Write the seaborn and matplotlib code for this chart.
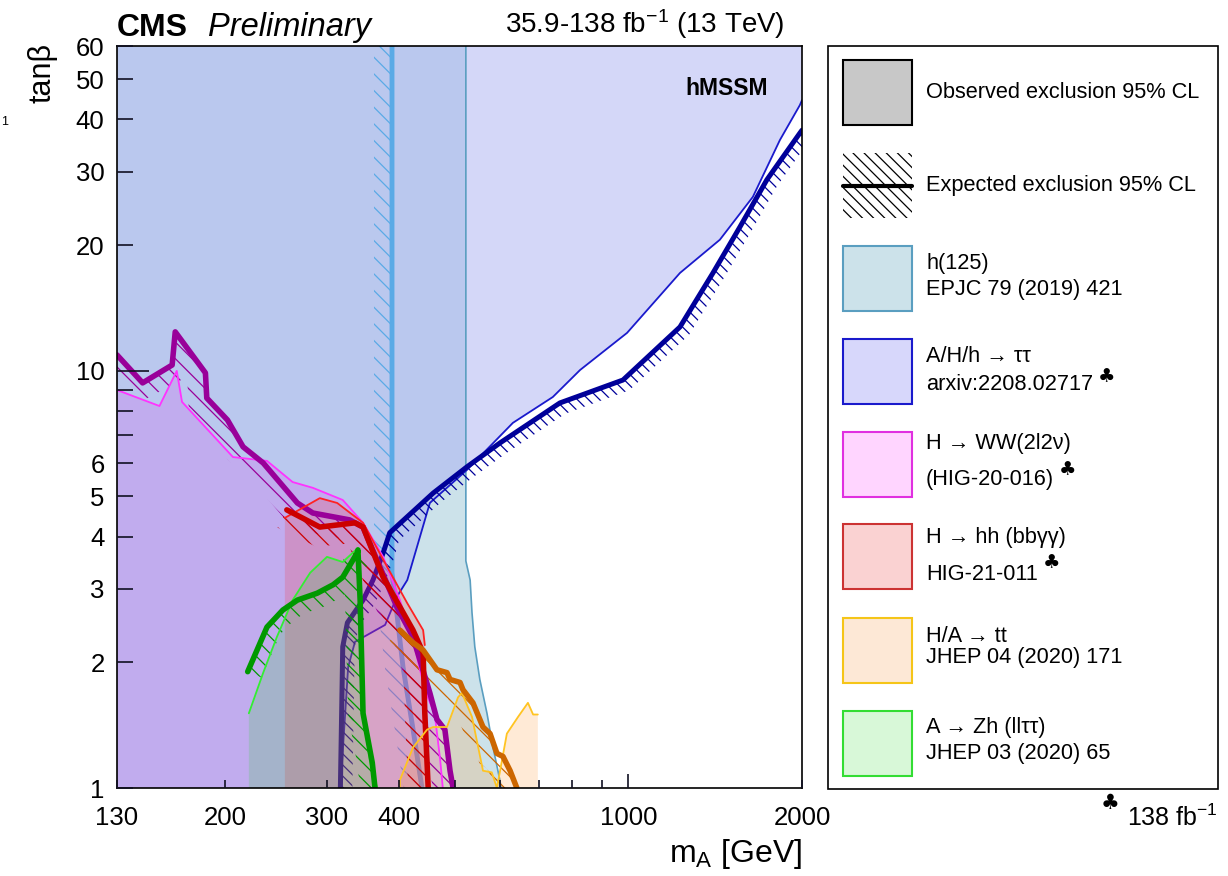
import numpy as np
import matplotlib
matplotlib.use("Agg")
import matplotlib.pyplot as plt
import seaborn as sns
from matplotlib.ticker import FixedLocator, FuncFormatter
from matplotlib.patches import Rectangle

# ---------------- data (mA [GeV], tan beta) ----------------
h125_obs_mA = [523, 523, 532, 536, 542, 553, 569, 583, 599, 602]
h125_obs_tb = [60, 3.5, 3.15, 2.63, 2.18, 1.82, 1.51, 1.25, 1.045, 1.0]
h125_exp_mA = [389.5, 389.5, 397, 407, 423, 439]
h125_exp_tb = [60, 3.28, 2.63, 1.95, 1.40, 1.0]

tautau_obs_mA = [317, 327, 336, 379, 397, 414, 453, 459, 525, 631, 740, 825, 995, 1229, 1441, 1644, 1831, 1983, 2000]
tautau_obs_tb = [1.0, 1.95, 2.24, 2.46, 2.87, 3.15, 4.82, 4.90, 5.78, 7.50, 8.65, 10.04, 12.32, 17.15, 20.6, 26.1, 35.7, 43.3, 44.5]
tautau_exp_mA = [317, 320, 326, 347, 361, 376, 386, 459, 525, 599, 761, 979, 1229, 1402, 1561, 1739, 1983, 2000]
tautau_exp_tb = [1.0, 2.18, 2.49, 2.82, 3.15, 3.66, 4.09, 5.09, 5.88, 6.71, 8.37, 9.50, 12.73, 17.15, 22.1, 28.7, 37.1, 37.7]

ww_obs_mA = [130, 154, 165, 168.5, 206.5, 236.5, 262, 284, 320, 347, 376, 402, 423.5, 444, 462, 472, 477]
ww_obs_tb = [8.99, 8.23, 9.99, 8.42, 6.21, 6.08, 5.41, 5.24, 4.90, 4.32, 3.58, 2.82, 2.26, 1.72, 1.50, 1.17, 1.0]
ww_exp_mA = [130, 144, 162, 164, 185, 186, 202, 215, 233, 267, 284, 329, 347, 371, 397, 423.5, 453, 466, 481, 491, 497]
ww_exp_tb = [10.91, 9.35, 10.32, 12.39, 9.88, 8.60, 7.62, 6.57, 6.01, 4.82, 4.56, 4.39, 4.22, 3.39, 2.72, 2.30, 1.69, 1.46, 1.38, 1.10, 1.0]

hh_obs_mA = [254, 254, 292, 313, 347, 382, 413.5, 441, 444, 444]
hh_obs_tb = [1.0, 4.44, 4.95, 4.82, 4.32, 3.39, 2.78, 2.39, 2.20, 1.0]
hh_exp_mA = [256, 292, 336, 347, 376, 423.5, 441, 444, 450]
hh_exp_tb = [4.64, 4.22, 4.32, 4.22, 3.20, 2.39, 2.11, 1.51, 1.0]

tt_obs_mA = [402, 402, 423.5, 448, 459, 485, 507, 515, 536, 560, 580, 592, 616, 644, 670, 684, 697]
tt_obs_tb = [1.0, 1.045, 1.25, 1.38, 1.40, 1.40, 1.65, 1.69, 1.48, 1.10, 1.09, 1.0, 1.35, 1.48, 1.60, 1.50, 1.50]
tt_exp_mA = [402, 423.5, 441, 466, 485, 491, 511, 517, 538, 560, 576, 592, 606.5, 624, 641]
tt_exp_tb = [2.39, 2.23, 2.14, 1.92, 1.89, 1.82, 1.79, 1.72, 1.60, 1.40, 1.35, 1.21, 1.19, 1.10, 1.0]

zh_obs_mA = [220, 233, 246, 262, 281, 300.5, 320, 340, 343, 347, 357, 367]
zh_obs_tb = [1.51, 1.89, 2.30, 2.82, 3.28, 3.58, 3.48, 3.76, 3.39, 1.51, 1.15, 1.0]
zh_exp_mA = [219, 236.5, 252, 267, 289, 308, 320, 339, 340, 343, 347, 360, 364]
zh_exp_tb = [1.90, 2.43, 2.67, 2.82, 2.93, 3.07, 3.20, 3.66, 3.72, 2.82, 1.51, 1.15, 1.0]

x_ticklabels = [130, 200, 300, 400, 1000, 2000]
y_ticklabels = [1, 2, 3, 4, 5, 6, 10, 20, 30, 40, 50, 60]

ARR = "\u2192"
legend_labels = [
    ["Observed exclusion 95% CL"],
    ["Expected exclusion 95% CL"],
    ["h(125)", "EPJC 79 (2019) 421"],
    ["A/H/h " + ARR + " \u03c4\u03c4", "arxiv:2208.02717"],
    ["H " + ARR + " WW(2l2\u03bd)", "(HIG-20-016)"],
    ["H " + ARR + " hh (bb\u03b3\u03b3)", "HIG-21-011"],
    ["H/A " + ARR + " tt", "JHEP 04 (2020) 171"],
    ["A " + ARR + " Zh (ll\u03c4\u03c4)", "JHEP 03 (2020) 65"],
]

# ---------------- style ----------------
sns.set_theme(style="white")
plt.rcParams["font.family"] = ["Liberation Sans", "DejaVu Sans"]
plt.rcParams["mathtext.fontset"] = "custom"
plt.rcParams["mathtext.rm"] = "Liberation Sans"
plt.rcParams["mathtext.it"] = "Liberation Sans:italic"
plt.rcParams["mathtext.bf"] = "Liberation Sans:bold"
plt.rcParams["hatch.linewidth"] = 0.9
for k in ["text.color", "xtick.color", "ytick.color", "axes.labelcolor", "axes.edgecolor"]:
    plt.rcParams[k] = "black"

W, H = 1228, 876
fig = plt.figure(figsize=(W / 100, H / 100), dpi=100)
fig.patch.set_facecolor("white")
ax = fig.add_axes([117 / W, 1 - 788 / H, 685 / W, 742 / H])
ax.set_facecolor("white")
ax.set_xscale("log")
ax.set_yscale("log")
XMIN, XMAX, YMIN, YMAX = 130, 2000, 1, 60
ax.set_xlim(XMIN, XMAX)
ax.set_ylim(YMIN, YMAX)


def band(xs, ys, w):
    """polygon of width w pixels on the right-hand side of the curve direction"""
    pts = ax.transData.transform(np.column_stack([xs, ys]))
    d = np.gradient(pts, axis=0)
    n = np.column_stack([d[:, 1], -d[:, 0]])
    n /= np.linalg.norm(n, axis=1)[:, None]
    off = ax.transData.inverted().transform(pts + w * n)
    return np.vstack([np.column_stack([xs, ys]), off[::-1]])


def hatch_band(xs, ys, w, color, z, hatch="\\\\\\"):
    p = band(xs, ys, w)
    ax.fill(p[:, 0], p[:, 1], facecolor="none", edgecolor=color, hatch=hatch, lw=0, zorder=z)


def line(xs, ys, color, lw, z):
    sns.lineplot(x=xs, y=ys, sort=False, estimator=None, color=color, lw=lw, ax=ax,
                 zorder=z, legend=False)


C = {
    "h125_fill": "#cce2ea", "h125_edge": "#5a9ec0", "h125_exp": "#5aaae6",
    "tt_fill": "#aab0f3", "tau_obs": "#1a1acc", "tau_exp": "#000099",
    "ww_fill": "#e040f0", "ww_obs": "#ff33ff", "ww_exp": "#990099",
    "hh_fill": "#ff2020", "hh_obs": "#ff2222", "hh_exp": "#cc0000",
    "top_fill": "#ff9933", "top_obs": "#ffc422", "top_exp": "#cc6600",
    "zh_fill": "#00e000", "zh_obs": "#33ee33", "zh_exp": "#009900",
}

# h(125)
ax.fill(list(h125_obs_mA) + [XMIN, XMIN], list(h125_obs_tb) + [YMIN, YMAX],
        color=C["h125_fill"], lw=0, zorder=1)
# A/H/h -> tautau
ax.fill(list(tautau_obs_mA) + [XMAX, XMIN, XMIN], list(tautau_obs_tb) + [YMAX, YMAX, YMIN],
        facecolor=C["tt_fill"], alpha=0.5, lw=0, zorder=2)

line(h125_obs_mA, h125_obs_tb, C["h125_edge"], 1.2, 3)
hatch_band(h125_exp_mA, h125_exp_tb, 18, C["h125_exp"], 3, hatch="\\\\")
line(h125_exp_mA, h125_exp_tb, C["h125_exp"], 3.5, 3)

line(tautau_obs_mA, tautau_obs_tb, C["tau_obs"], 1.3, 4)
hatch_band(tautau_exp_mA, tautau_exp_tb, 12, C["tau_exp"], 4)
line(tautau_exp_mA, tautau_exp_tb, C["tau_exp"], 3.6, 4)

# other fills
ax.fill(list(ww_obs_mA) + [XMIN], list(ww_obs_tb) + [YMIN], facecolor=C["ww_fill"], alpha=0.2, lw=0, zorder=5)
ax.fill(hh_obs_mA, hh_obs_tb, facecolor=C["hh_fill"], alpha=0.18, lw=0, zorder=5)
ax.fill(list(zh_obs_mA) + [zh_obs_mA[0]], list(zh_obs_tb) + [YMIN], facecolor=C["zh_fill"], alpha=0.15, lw=0, zorder=5)
ax.fill(list(tt_obs_mA) + [tt_obs_mA[-1]], list(tt_obs_tb) + [YMIN], facecolor=C["top_fill"], alpha=0.2, lw=0, zorder=5)

hatch_band(ww_exp_mA, ww_exp_tb, 20, C["ww_exp"], 6, hatch="\\\\")
hatch_band(hh_exp_mA, hh_exp_tb, 20, C["hh_exp"], 6, hatch="\\\\")
hatch_band(zh_exp_mA, zh_exp_tb, 15, C["zh_exp"], 6, hatch="\\\\")
hatch_band(tt_exp_mA, tt_exp_tb, 20, C["top_exp"], 6, hatch="\\\\")

line(ww_obs_mA, ww_obs_tb, C["ww_obs"], 1.3, 7)
line(ww_exp_mA, ww_exp_tb, C["ww_exp"], 4, 7)
line(hh_obs_mA[1:-1], hh_obs_tb[1:-1], C["hh_obs"], 1.3, 7)
line(hh_exp_mA, hh_exp_tb, C["hh_exp"], 4, 7)
line(zh_obs_mA, zh_obs_tb, C["zh_obs"], 1.3, 7)
line(zh_exp_mA, zh_exp_tb, C["zh_exp"], 4, 7)
line(tt_obs_mA, tt_obs_tb, C["top_obs"], 1.3, 7)
line(tt_exp_mA, tt_exp_tb, C["top_exp"], 4, 7)

# ---------------- axes ----------------
ax.set_xlim(XMIN, XMAX)
ax.set_ylim(YMIN, YMAX)
ax.set_xlabel("")
ax.set_ylabel("")
ax.yaxis.set_major_locator(FixedLocator([10]))
ax.yaxis.set_minor_locator(FixedLocator([1, 2, 3, 4, 5, 6, 7, 8, 9, 20, 30, 40, 50, 60]))
fmt = lambda labs: FuncFormatter(lambda v, p: f"{v:g}" if int(round(v)) in labs else "")
ax.yaxis.set_major_formatter(fmt(y_ticklabels))
ax.yaxis.set_minor_formatter(fmt(y_ticklabels))
ax.xaxis.set_major_locator(FixedLocator([1000]))
ax.xaxis.set_minor_locator(FixedLocator([130, 200, 300, 400, 500, 600, 700, 800, 900, 2000]))
ax.xaxis.set_major_formatter(fmt(x_ticklabels))
ax.xaxis.set_minor_formatter(fmt(x_ticklabels))
ax.tick_params(which="both", top=False, right=False, left=True, bottom=True,
               direction="in", width=1.2, color="#111122", labelsize=18.5, labelcolor="black")
ax.tick_params(axis="y", which="major", length=23, pad=9)
ax.tick_params(axis="y", which="minor", length=11.5, pad=9)
ax.tick_params(axis="x", which="major", length=10, pad=13)
ax.tick_params(axis="x", which="minor", length=6, pad=13)
ax.xaxis.set_zorder(20)
ax.yaxis.set_zorder(20)
for s in ax.spines.values():
    s.set_color("black")
    s.set_linewidth(1.2)
    s.set_zorder(20)

ax.text(0.95, 0.943, "hMSSM", transform=ax.transAxes, ha="right", va="center",
        fontsize=16.5, fontweight="bold", zorder=20)

fx = lambda px: px / W
fy = lambda py: 1 - py / H
fig.text(fx(117), fy(36), "CMS", fontsize=23, fontweight="bold", ha="left", va="baseline")
fig.text(fx(208), fy(36), "Preliminary", fontsize=23.5, fontstyle="italic", ha="left", va="baseline")
fig.text(fx(785), fy(33), r"35.9-138 fb$^{-1}$ (13 TeV)", fontsize=20, ha="right", va="baseline")
fig.text(fx(42), fy(43), "tan\u03b2", fontsize=22, rotation=90, ha="center", va="top")
fig.text(fx(802), fy(862), r"m$_{\mathrm{A}}$ [GeV]", fontsize=23, ha="right", va="baseline")
fig.text(fx(5), fy(122), "1", fontsize=9, ha="center", va="center")
fig.text(fx(1110), fy(803), "\u2663", fontsize=15, ha="center", va="center", family=["DejaVu Sans"])
fig.text(fx(1127), fy(818), r"138 fb$^{-1}$", fontsize=18, ha="left", va="center")

# ---------------- legend ----------------
lax = fig.add_axes([0, 0, 1, 1])
lax.set_xlim(0, W)
lax.set_ylim(H, 0)
lax.axis("off")
lax.add_patch(Rectangle((828, 46), 390, 743, fc="none", ec="black", lw=1.2))

box_y = [60, 153, 246, 339, 432, 524, 618, 711]
box_fc = ["#c8c8c8", "none", C["h125_fill"], "#d7d7fb", "#ffd5ff", "#fad2d2", "#fde8d6", "#d8f8d8"]
box_ec = ["black", "none", C["h125_edge"], C["tau_obs"], "#e030e0", "#cc3333", "#f5c518", "#33dd33"]
text_y = [[93], [186], [263, 290], [357, 385], [443, 480], [538, 575], [637, 658], [727, 753]]
clubs = {3: (1107, 377), 4: (1068, 470), 5: (1052, 563)}
for i, labs in enumerate(legend_labels):
    if i == 1:
        lax.add_patch(Rectangle((843, box_y[i]), 69, 65, fc="none", ec="black", hatch="\\\\\\", lw=0))
        lax.plot([843, 912], [box_y[i] + 33, box_y[i] + 33], color="black", lw=3)
    else:
        lax.add_patch(Rectangle((843, box_y[i]), 69, 65, fc=box_fc[i], ec=box_ec[i], lw=1.5))
    for t, yy in zip(labs, text_y[i]):
        lax.text(926, yy, t, fontsize=15.7, ha="left", va="center")
    if i in clubs:
        lax.text(clubs[i][0], clubs[i][1], "\u2663", fontsize=14, ha="center", va="center",
                 family=["DejaVu Sans"])

fig.savefig("out.png", dpi=100, facecolor="white")
